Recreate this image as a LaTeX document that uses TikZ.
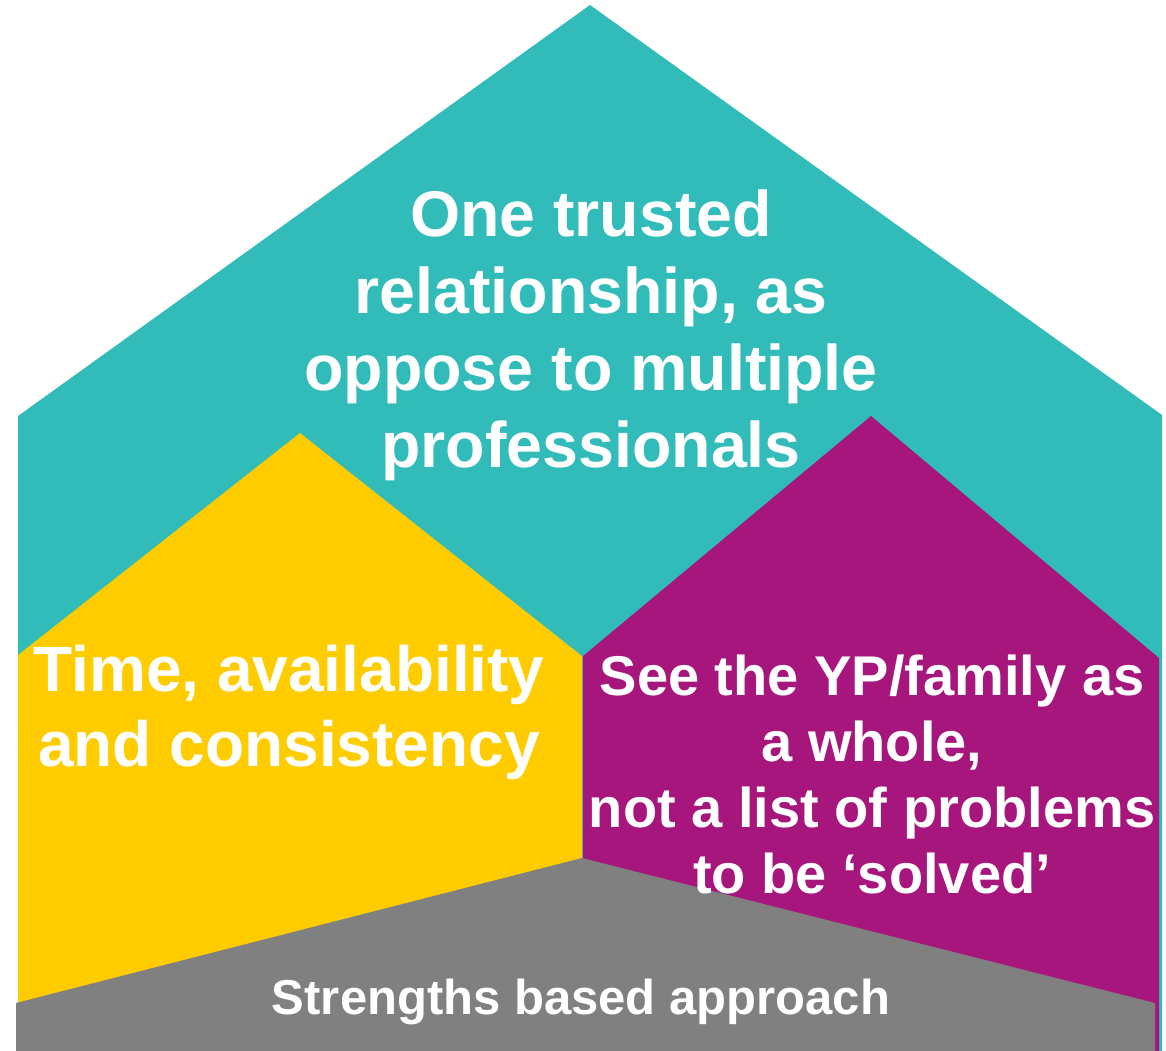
\documentclass[tikz,border=0pt]{standalone}
\usepackage{fontspec}
\setmainfont{Liberation Sans}
\definecolor{teal}{HTML}{31BCBA}
\definecolor{ylw}{HTML}{FFCC00}
\definecolor{purp}{HTML}{A6167C}
\definecolor{gry}{HTML}{808080}
\tikzset{
  lbl/.style={text=white, align=center, font=\bfseries, inner sep=0pt},
}
\begin{document}
\begin{tikzpicture}[x=1pt,y=-1pt]
\useasboundingbox (0,0) rectangle (1166,1051);
% teal house
\fill[teal] (18,416) -- (590,5) -- (1162,415) -- (1162,1051) -- (18,1051) -- cycle;
% yellow
\fill[ylw] (18,655) -- (300,433) -- (582,656) -- (582,1051) -- (18,1051) -- cycle;
% purple
\fill[purp] (583,656) -- (871,416) -- (1159,658) -- (1159,1051) -- (583,1051) -- cycle;
% gray
\fill[gry] (16,1003) -- (582,858) -- (1155,1003) -- (1155,1051) -- (16,1051) -- cycle;
% texts
\node[lbl, font=\bfseries\fontsize{64.5}{77}\selectfont] (top) at (591,335)
  {One trusted\\relationship, as\\oppose to multiple\\professionals};
\node[lbl, font=\bfseries\fontsize{64}{75}\selectfont] (left) at (289,712)
  {Time, availability\\and consistency};
\node[lbl, font=\bfseries\fontsize{56}{66}\selectfont] (right) at (872,774)
  {See the YP/family as\\a whole,\\not a list of problems\\to be ‘solved’};
\node[lbl, font=\bfseries\fontsize{49}{50}\selectfont] (base) at (581,1002)
  {Strengths based approach};
\end{tikzpicture}
\end{document}
